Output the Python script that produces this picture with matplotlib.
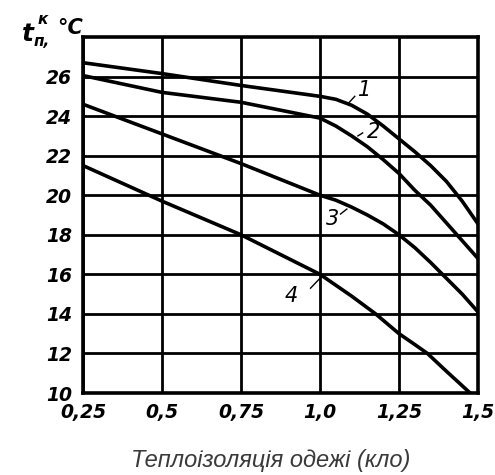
import numpy as np
import matplotlib
matplotlib.use("Agg")
import matplotlib.pyplot as plt
from matplotlib import font_manager

# дані
clo_1 = [0.25, 0.5, 0.75, 1.0, 1.05, 1.1, 1.15, 1.2, 1.25, 1.3, 1.35, 1.4, 1.45, 1.5]
t_1 = [26.7, 26.15, 25.55, 25.0, 24.85, 24.55, 24.1, 23.5, 22.85, 22.2, 21.5, 20.7, 19.7, 18.55]
clo_2 = [0.25, 0.5, 0.75, 1.0, 1.05, 1.1, 1.15, 1.2, 1.25, 1.3, 1.35, 1.4, 1.45, 1.5]
t_2 = [26.05, 25.2, 24.7, 23.9, 23.5, 23.0, 22.45, 21.8, 21.1, 20.25, 19.5, 18.6, 17.7, 16.8]
clo_3 = [0.25, 0.5, 0.75, 0.875, 1.0, 1.05, 1.1, 1.15, 1.2, 1.25, 1.3, 1.35, 1.4, 1.45, 1.5]
t_3 = [24.6, 23.1, 21.6, 20.8, 20.0, 19.75, 19.4, 19.0, 18.55, 18.0, 17.35, 16.6, 15.8, 15.0, 14.1]
clo_4 = [0.25, 0.5, 0.75, 1.0, 1.1, 1.176, 1.25, 1.3, 1.34, 1.4, 1.475]
t_4 = [21.5, 19.7, 18.0, 16.0, 14.9, 14.0, 13.0, 12.45, 12.0, 11.1, 10.0]

x_ticks = [0.25, 0.5, 0.75, 1.0, 1.25, 1.5]
x_tick_labels = ["0,25", "0,5", "0,75", "1,0", "1,25", "1,5"]
y_ticks = [10, 12, 14, 16, 18, 20, 22, 24, 26]
y_tick_labels = ["10", "12", "14", "16", "18", "20", "22", "24", "26"]

# номери кривих: текст, позиція підпису, відрізок-виноска
curve_names = ["1", "2", "3", "4"]
name_pos = [(1.14, 25.3), (1.17, 23.2), (1.04, 18.8), (0.91, 14.9)]
leader_x = [(1.09, 1.11), (1.12, 1.135), (1.065, 1.085), (0.97, 1.0)]
leader_y = [(24.65, 25.0), (23.0, 23.15), (19.05, 19.3), (15.3, 15.8)]

names = {f.name for f in font_manager.fontManager.ttflist}
hand_font = "Liberation Sans Narrow" if "Liberation Sans Narrow" in names else "DejaVu Sans"

# звичайний (не вузький) курсив Liberation Sans для підпису осі x
label_font = None
for f in font_manager.fontManager.ttflist:
    if f.name == "Liberation Sans" and f.style == "italic" and f.weight in (400, "normal", "regular"):
        label_font = font_manager.FontProperties(fname=f.fname)
        break
if label_font is None:
    label_font = font_manager.FontProperties(family="DejaVu Sans", style="italic")
label_font.set_size(17)

fig = plt.figure(figsize=(4.95, 4.75), dpi=100)
ax = fig.add_axes([83 / 495, 82 / 475, 395 / 495, 356 / 475])

for xs, ys in [(clo_1, t_1), (clo_2, t_2), (clo_3, t_3), (clo_4, t_4)]:
    ax.plot(xs, ys, color="black", lw=2.6, solid_capstyle="round",
            solid_joinstyle="round", zorder=3)

for n, (px, py), lx, ly in zip(curve_names, name_pos, leader_x, leader_y):
    ax.text(px, py, n, fontsize=15, style="italic", family=hand_font,
            ha="center", va="center", zorder=4)
    ax.plot(lx, ly, color="black", lw=1.0, zorder=4)

ax.set_xlim(0.25, 1.5)
ax.set_ylim(10, 28)
ax.set_xticks(x_ticks)
ax.set_xticklabels(x_tick_labels)
ax.set_yticks(y_ticks)
ax.set_yticklabels(y_tick_labels)
ax.grid(True, color="black", lw=2.0)
ax.set_axisbelow(True)
for s in ax.spines.values():
    s.set_linewidth(2.6)
ax.tick_params(length=0)
ax.tick_params(axis="x", pad=7)
ax.tick_params(axis="y", pad=8)
for lab in ax.get_xticklabels() + ax.get_yticklabels():
    lab.set_fontfamily(hand_font)
    lab.set_fontsize(13.5)
    lab.set_fontweight("bold")
    lab.set_fontstyle("italic")

# позначення осі y
fig.text(28 / 495, 1 - 34 / 475, "t", fontsize=18, style="italic", weight="bold",
         family=hand_font, ha="center", va="center")
fig.text(43 / 495, 1 - 19 / 475, "к", fontsize=11, style="italic", weight="bold",
         ha="center", va="center")
fig.text(42 / 495, 1 - 42 / 475, "п,", fontsize=11, style="italic", weight="bold",
         ha="center", va="center")
fig.text(70 / 495, 1 - 28 / 475, "°C", fontsize=15, style="italic", weight="bold",
         family=hand_font, ha="center", va="center")

fig.text(271 / 495, 1 - 460 / 475, "Теплоізоляція одежі (кло)",
         fontproperties=label_font, color="#3a3a3a", ha="center", va="center")

fig.savefig("out.png", dpi=100)
